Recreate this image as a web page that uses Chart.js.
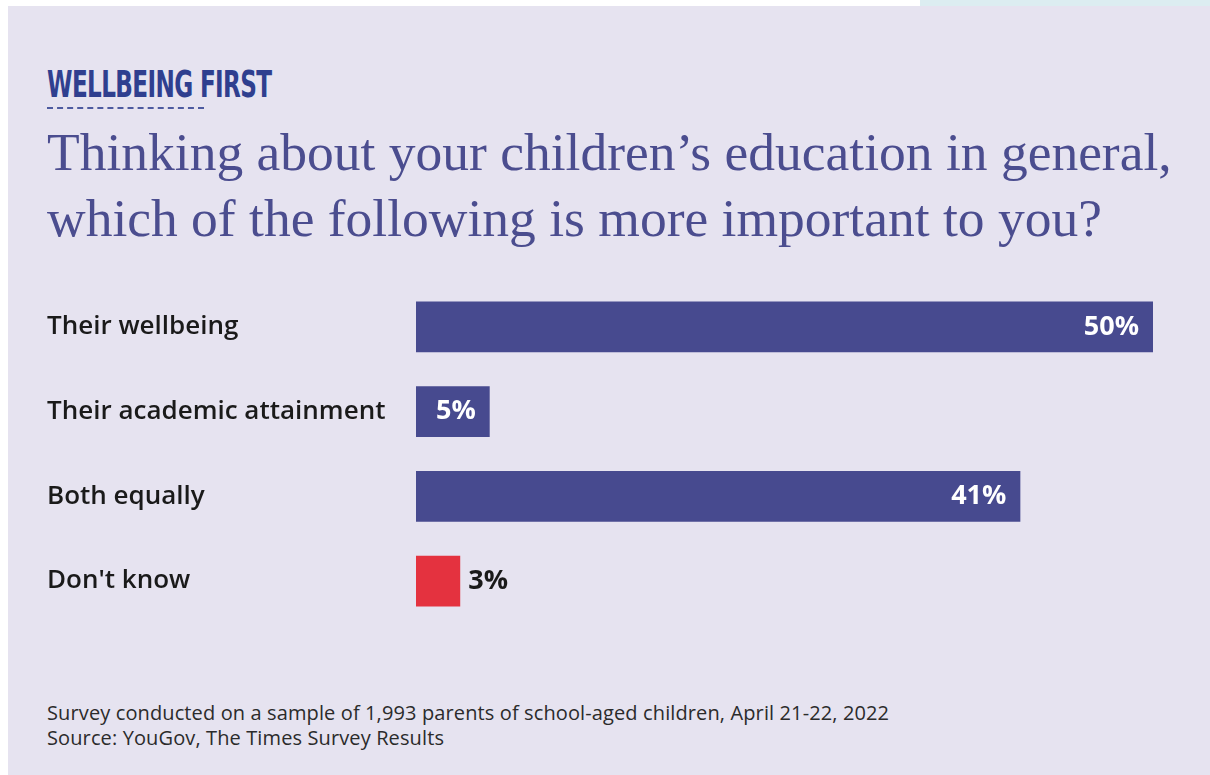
<!DOCTYPE html>
<html>
<head>
<meta charset="utf-8">
<script src="https://cdn.jsdelivr.net/npm/chart.js@4"></script>
<style>
  html, body { margin: 0; padding: 0; background: #ffffff; }
  body { width: 1210px; height: 775px; position: relative; overflow: hidden; }
  #strip { position: absolute; left: 920px; top: 0; width: 290px; height: 6px; background: #dcedf1; }
  #panel { position: absolute; left: 8px; top: 6px; width: 1202px; height: 769px; background: #e6e3f0; }
  #kicker {
    position: absolute; left: 47px; top: 66px; margin: 0;
    font-family: "DejaVu Sans", sans-serif; font-weight: bold;
    font-size: 37px; line-height: 37px; color: #2f3f8f; letter-spacing: -1px; white-space: nowrap;
    transform: scaleX(0.625); transform-origin: left top;
  }
  #dots { position: absolute; left: 47px; top: 107px; width: 157px; height: 0; border-top: 2px dashed #4d5aa0; }
  #title {
    position: absolute; left: 47px; top: 119px; margin: 0;
    font-family: "Liberation Serif", "DejaVu Serif", serif; font-weight: normal;
    font-size: 53.5px; line-height: 66px; color: #4b4d8f; white-space: nowrap;
  }
  #chartBox { position: absolute; left: 0; top: 269px; width: 1210px; height: 370px; }
  #note {
    position: absolute; left: 47px; top: 700px; margin: 0;
    font-family: "Open Sans", sans-serif; font-size: 20px; line-height: 25px;
    color: #2b2b2b; letter-spacing: 0.12px; white-space: nowrap;
  }
</style>
</head>
<body>
<div id="strip"></div>
<div id="panel"></div>
<div id="kicker">WELLBEING FIRST</div>
<div id="dots"></div>
<div id="title">Thinking about your children’s education in general,<br>which of the following is more important to you?</div>
<div id="chartBox"><canvas id="surveyChart"></canvas></div>
<div id="note">Survey conducted on a sample of 1,993 parents of school-aged children, April 21-22, 2022<br>Source: YouGov, The Times Survey Results</div>

<script>
// Data jawaban survei
const answers = ["Their wellbeing", "Their academic attainment", "Both equally", "Don't know"];
const shares = [50, 5, 41, 3];
const barColors = ["#474a8f", "#474a8f", "#474a8f", "#e4323f"];

// Plugin untuk menulis label persen di ujung batang
const valueLabels = {
  id: "valueLabels",
  afterDatasetsDraw(chart) {
    const ctx = chart.ctx;
    const meta = chart.getDatasetMeta(0);
    ctx.save();
    ctx.font = "bold 27px 'Open Sans', sans-serif";
    ctx.textBaseline = "middle";
    meta.data.forEach((bar, i) => {
      const text = shares[i] + "%";
      const barWidth = bar.x - bar.base;
      if (barWidth > 60) {
        ctx.fillStyle = "#ffffff";
        ctx.textAlign = "right";
        ctx.fillText(text, bar.x - 14, bar.y);
      } else {
        ctx.fillStyle = "#1a1a1a";
        ctx.textAlign = "left";
        ctx.fillText(text, bar.x + 8, bar.y);
      }
    });
    ctx.restore();
  },
};

const config = {
  type: "bar",
  data: {
    labels: answers,
    datasets: [
      {
        data: shares,
        backgroundColor: barColors,
        borderWidth: 0,
        categoryPercentage: 0.6,
        barPercentage: 1,
      },
    ],
  },
  options: {
    indexAxis: "y",
    responsive: true,
    maintainAspectRatio: false,
    animation: false,
    layout: { padding: { left: 47, right: 57, top: 0, bottom: 0 } },
    plugins: {
      legend: { display: false },
      tooltip: { enabled: false },
    },
    scales: {
      x: {
        display: false,
        min: 0,
        max: 50,
      },
      y: {
        grid: { display: false },
        border: { display: false },
        ticks: {
          crossAlign: "far",
          padding: 0,
          color: "#1a1a1a",
          font: { family: "'Open Sans', sans-serif", size: 26, weight: "600" },
        },
        afterFit(scale) {
          scale.width = 369;
        },
      },
    },
  },
  plugins: [valueLabels],
};

new Chart(document.getElementById("surveyChart"), config);
</script>
</body>
</html>
